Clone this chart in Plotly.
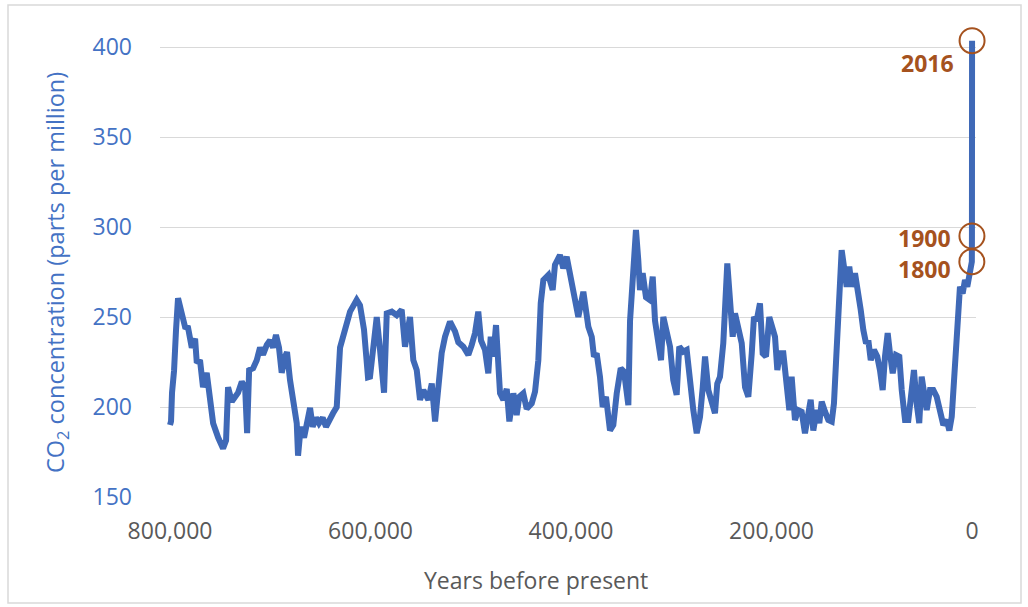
import plotly.graph_objects as go

# ---- data (years before present, CO2 ppm) ----
years_a = [800000, 799000, 798000, 796000, 794000, 792000, 788300, 785000, 782000, 778300,
           775000, 773300, 770100, 767100, 763400, 760000, 757000, 752000, 747100, 744100,
           742100, 738400, 735100, 732100, 728400, 725100, 723100, 721100, 717100, 713500,
           710200, 707200, 703500, 700200, 697200, 694300, 691300, 688600, 685300, 683300,
           680300, 677300, 673600, 672300, 669600, 666300, 663600, 660300, 657700, 654400,
           651400, 647700, 644400, 641400, 637400, 633700, 630400, 625400, 620400, 613800,
           610500, 606500, 602500]
co2_a = [190, 192, 208, 220, 243, 260.5, 252, 244.5, 244, 233,
         238, 224.5, 226, 211, 219, 204, 191, 183, 177, 181.5,
         211, 203, 205.5, 208, 214, 211, 185.5, 220.5, 221.5, 226,
         233, 229, 234.5, 237, 233, 240, 233, 219, 228, 230.5,
         215, 205.5, 191, 173, 189, 183, 189, 199.5, 189, 194,
         191, 194, 189, 193, 196.5, 200, 233, 243, 253, 259.5,
         256.5, 243, 216.5]

years_b = [600500, 593800, 590500, 586500, 583800, 578800, 573900, 568900, 565600, 560600,
           557300, 553900, 550600, 547300, 542300, 538900, 535600, 532400, 529000, 525700,
           520700, 515700, 512400, 507400, 502400, 499000, 495800, 492500, 489800, 485800,
           482500, 480100, 477500, 474800, 472500, 470800, 467500, 464100, 461500, 457500,
           454200, 451600, 447600, 444200, 439200, 435900, 432600, 430200, 427600, 422600,
           418300, 416000, 411000, 407700, 404300, 401000, 397000, 392700]
co2_b = [216.8, 250, 231.7, 208, 252, 253, 251, 254, 233.5, 250,
         226, 220.5, 204, 209.4, 204, 213, 192, 215, 230, 239,
         247.4, 242, 236, 233.5, 229, 234.5, 241, 253, 237, 231.7,
         218.7, 239, 228, 245.5, 222.4, 207.6, 204, 210, 192, 207.6,
         195.5, 205.7, 207.6, 199, 202, 208.5, 226, 257.6, 270.5, 273.3,
         265, 279, 284.4, 277, 283.5, 274, 259.4, 250]

years_c = [387700, 382700, 379300, 377100, 374400, 371100, 368400, 365100, 361100, 357800,
           354400, 350400, 347100, 342800, 341100, 337900, 335200, 332900, 331200, 328500,
           325200, 321200, 318500, 316200, 312900, 310200, 307900, 304500, 301200, 298000,
           294600, 292000, 288000, 284600, 281300, 278000, 274600, 271300, 268600, 266300,
           263000, 259700, 256400, 254100, 251400, 248100, 245700, 244100, 241400, 238700,
           236400, 233100, 229700, 226400, 223100, 219700, 217500, 214800, 211500, 208800,
           205500, 202200, 198800, 196500, 194200, 191500, 188200, 184800, 182200]
co2_c = [264, 244.6, 239, 228, 229.8, 216.8, 200, 205.7, 187, 190,
         207.6, 221.5, 219.6, 201, 248, 270.5, 298.3, 281.7, 265, 274.3,
         261, 259.4, 272.4, 248, 233.5, 226, 250, 241, 233.5, 215,
         206.7, 233.5, 230.7, 231.7, 211, 198.3, 185.4, 194.6, 211, 228,
         209.4, 204, 196.5, 213, 216.8, 235.4, 257.6, 279.8, 259.4, 239,
         252, 242.8, 235.4, 211, 205.7, 229.8, 250, 248, 257.6, 229.8,
         228, 250, 244.6, 239, 220.5, 229.8, 229.8, 207.6, 198.3]

years_d = [179900, 176600, 173300, 169900, 166600, 163300, 160900, 158300, 154900, 152300,
           149900, 146600, 143300, 139900, 137700, 135700, 133400, 131700, 130000, 127700,
           125000, 122400, 120000, 116700, 113400, 111000, 108400, 105700, 103400, 101000,
           97800, 94500, 91800, 89100, 86800, 84100, 81800, 79100, 75800, 72500,
           70100, 66800, 63500, 60100, 57900, 55200, 52600, 50200, 47900, 45200,
           41900, 38600, 35200, 31900, 28600, 25200, 22600, 20200, 18700, 17000,
           15300, 13700, 12000, 9300, 7000, 4700, 2000]
co2_d = [216.8, 192.8, 198.3, 197.4, 185.4, 194.6, 204, 187, 198.3, 191,
         203, 197.4, 192.8, 191.9, 202, 224.3, 252, 276, 287.2, 278,
         266.8, 278, 266.8, 274.3, 265, 254, 242.8, 235.4, 237, 226,
         231.7, 228, 220.5, 209.4, 228, 241, 229.8, 218.7, 228.9, 228,
         209.4, 192.8, 192.8, 207.6, 220.5, 202, 191, 216.8, 205.7, 198.3,
         209.4, 209.4, 205.7, 196.5, 190, 192.8, 187, 194.6, 209.4, 231.7,
         241, 261.3, 266.8, 263, 270.5, 266.8, 276]

# modern values (years before 1950)
years_modern = [150, 50, -66]
co2_modern = [280.7, 295, 403.5]
modern_labels = ["1800", "1900", "2016"]

x_tickvals = [800000, 600000, 400000, 200000, 0]
x_ticktext = ["800,000", "600,000", "400,000", "200,000", "0"]
y_tickvals = [150, 200, 250, 300, 350, 400]

# ---- styling ----
BLUE = "#3F69B7"
TICKBLUE = "#4472C4"
BROWN = "#A5521E"
GRAY = "#595959"
FONT = "Open Sans"

years = years_a + years_b + years_c + years_d + years_modern
co2 = co2_a + co2_b + co2_c + co2_d + co2_modern

fig = go.Figure()
fig.add_trace(go.Scatter(x=years, y=co2, mode="lines",
                         line=dict(color=BLUE, width=6),
                         hoverinfo="skip", showlegend=False))
fig.add_trace(go.Scatter(x=years_modern, y=co2_modern, mode="markers",
                         marker=dict(symbol="circle-open", size=25, color=BROWN,
                                     line=dict(width=2, color=BROWN)),
                         cliponaxis=False,
                         hoverinfo="skip", showlegend=False))

# label offsets (pixels) relative to each circle
label_shift = {"2016": (-17, -22), "1900": (-20, -2), "1800": (-20, -7)}
for xv, yv, lab in zip(years_modern, co2_modern, modern_labels):
    dx, dy = label_shift[lab]
    fig.add_annotation(x=xv, y=yv, text=lab, showarrow=False,
                       xanchor="right", yanchor="middle",
                       xshift=dx, yshift=dy, borderpad=0,
                       font=dict(family=FONT, size=23, color=BROWN, weight="bold"))

# plot area: 150 ppm at y=497px, 400 ppm at y=47px (extra headroom above 400 for the 2016 value)
Y_TOP = 410
top_px = 497 - (Y_TOP - 150) * 1.8
ph = 497 - top_px

# axis titles as annotations
fig.add_annotation(xref="paper", yref="paper", x=(536 - 160) / 816, y=(497 - 580) / ph,
                   text="Years before present", showarrow=False,
                   xanchor="center", yanchor="middle",
                   font=dict(family=FONT, size=23, color=GRAY))
fig.add_annotation(xref="paper", yref="paper", x=(56 - 160) / 816, y=(497 - 273) / ph,
                   text="CO<sub>2</sub> concentration (parts per million)", showarrow=False,
                   textangle=-90, xanchor="center", yanchor="middle",
                   font=dict(family=FONT, size=23.5, color=TICKBLUE))

# chart border
fig.add_shape(type="rect", xref="paper", yref="paper",
              x0=(8 - 160) / 816, x1=(1021 - 160) / 816,
              y0=(497 - 603) / ph, y1=(497 - 5) / ph,
              line=dict(color="#D9D9D9", width=1.5), fillcolor="rgba(0,0,0,0)", layer="below")

fig.update_layout(
    width=1028, height=607,
    margin=dict(l=160, r=52, t=top_px, b=110),
    paper_bgcolor="white", plot_bgcolor="white",
    showlegend=False,
    font=dict(family=FONT),
)
fig.update_xaxes(range=[810000, -4000], tickvals=x_tickvals, ticktext=x_ticktext,
                 showgrid=False, zeroline=False, showline=False, ticks="",
                 ticklabelstandoff=18,
                 tickfont=dict(family=FONT, size=23, color=GRAY))
fig.update_yaxes(range=[150, Y_TOP], tickvals=y_tickvals,
                 showgrid=True, gridcolor="#D9D9D9", gridwidth=1.3,
                 zeroline=False, showline=False, ticks="",
                 ticklabelstandoff=27,
                 tickfont=dict(family=FONT, size=23, color=TICKBLUE))

fig.write_html("out.html", config={"displayModeBar": False},
               post_script="document.body.style.margin='0';document.body.style.overflow='hidden';")
